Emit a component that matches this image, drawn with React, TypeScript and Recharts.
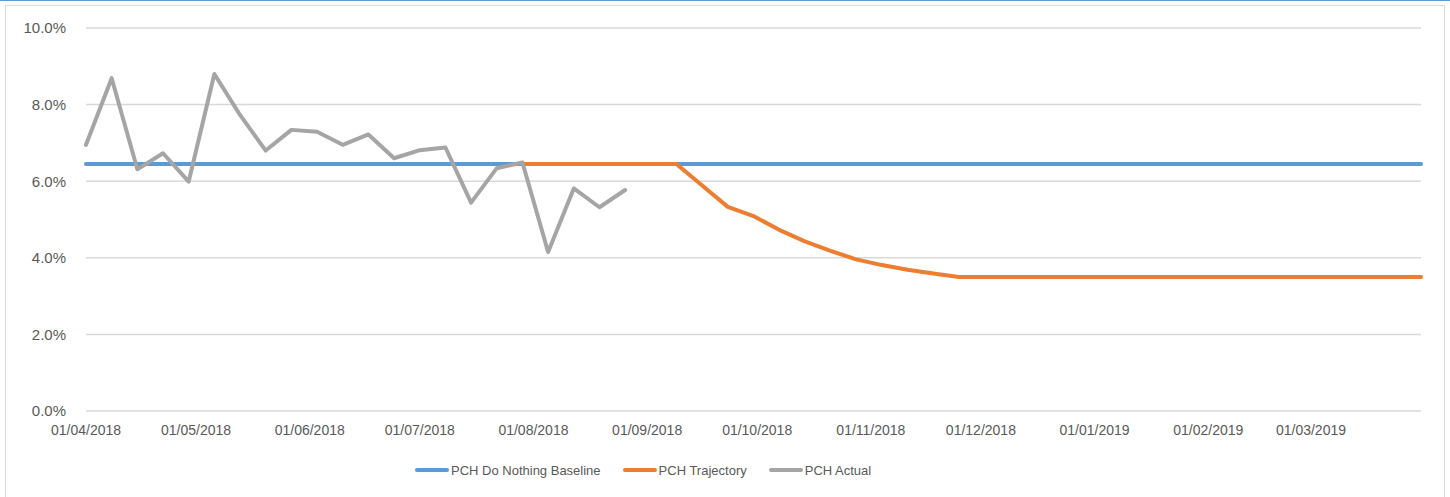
import React from "react";
import { LineChart, Line, XAxis, YAxis, CartesianGrid, Legend } from "recharts";

// weekly dates (dd/mm/yyyy)
const weeks = [
  "01/04/2018", "08/04/2018", "15/04/2018", "22/04/2018", "29/04/2018",
  "06/05/2018", "13/05/2018", "20/05/2018", "27/05/2018",
  "03/06/2018", "10/06/2018", "17/06/2018", "24/06/2018",
  "01/07/2018", "08/07/2018", "15/07/2018", "22/07/2018", "29/07/2018",
  "05/08/2018", "12/08/2018", "19/08/2018", "26/08/2018",
  "02/09/2018", "09/09/2018", "16/09/2018", "23/09/2018", "30/09/2018",
  "07/10/2018", "14/10/2018", "21/10/2018", "28/10/2018",
  "04/11/2018", "11/11/2018", "18/11/2018", "25/11/2018",
  "02/12/2018", "09/12/2018", "16/12/2018", "23/12/2018", "30/12/2018",
  "06/01/2019", "13/01/2019", "20/01/2019", "27/01/2019",
  "03/02/2019", "10/02/2019", "17/02/2019", "24/02/2019",
  "03/03/2019", "10/03/2019", "17/03/2019", "24/03/2019", "31/03/2019",
];

// PCH Do Nothing Baseline (%)
const baseline = [
  6.45, 6.45, 6.45, 6.45, 6.45, 6.45, 6.45, 6.45, 6.45, 6.45,
  6.45, 6.45, 6.45, 6.45, 6.45, 6.45, 6.45, 6.45, 6.45, 6.45,
  6.45, 6.45, 6.45, 6.45, 6.45, 6.45, 6.45, 6.45, 6.45, 6.45,
  6.45, 6.45, 6.45, 6.45, 6.45, 6.45, 6.45, 6.45, 6.45, 6.45,
  6.45, 6.45, 6.45, 6.45, 6.45, 6.45, 6.45, 6.45, 6.45, 6.45,
  6.45, 6.45, 6.45,
];

// PCH Trajectory (%)
const trajectory = [
  null, null, null, null, null, null, null, null, null, null,
  null, null, null, null, null, null, null, 6.45, 6.45, 6.45,
  6.45, 6.45, 6.45, 6.45, 5.89, 5.33, 5.09, 4.73, 4.43, 4.18,
  3.96, 3.81, 3.69, 3.59, 3.5, 3.5, 3.5, 3.5, 3.5, 3.5,
  3.5, 3.5, 3.5, 3.5, 3.5, 3.5, 3.5, 3.5, 3.5, 3.5,
  3.5, 3.5, 3.5,
];

// PCH Actual (%)
const actual = [
  6.95, 8.69, 6.31, 6.73, 5.99, 8.8, 7.73, 6.8, 7.34, 7.29,
  6.95, 7.22, 6.6, 6.81, 6.88, 5.44, 6.34, 6.49, 4.15, 5.81,
  5.32, 5.77,
];

const monthTicks = [
  "01/04/2018", "01/05/2018", "01/06/2018", "01/07/2018", "01/08/2018",
  "01/09/2018", "01/10/2018", "01/11/2018", "01/12/2018", "01/01/2019",
  "01/02/2019", "01/03/2019",
];

const yTicks = [0, 2, 4, 6, 8, 10];

const toTime = (s: string) => {
  const [d, m, y] = s.split("/").map(Number);
  return Date.UTC(y, m - 1, d);
};

const fmtDate = (t: number) => {
  const d = new Date(t);
  const dd = String(d.getUTCDate()).padStart(2, "0");
  const mm = String(d.getUTCMonth() + 1).padStart(2, "0");
  return `${dd}/${mm}/${d.getUTCFullYear()}`;
};

const data = weeks.map((w, i) => ({
  t: toTime(w),
  baseline: baseline[i],
  trajectory: trajectory[i] ?? null,
  actual: actual[i] ?? null,
}));

const FONT = "'Liberation Sans', Arial, sans-serif";
const TEXT = "#595959";

const series = [
  { key: "baseline", name: "PCH Do Nothing Baseline", color: "#5B9BD5" },
  { key: "trajectory", name: "PCH Trajectory", color: "#ED7D31" },
  { key: "actual", name: "PCH Actual", color: "#A5A5A5" },
];

const renderLegend = () => (
  <div
    style={{
      display: "flex",
      alignItems: "center",
      height: 20,
      paddingLeft: 415,
      fontFamily: FONT,
      fontSize: 13,
      color: TEXT,
    }}
  >
    {series.map((s) => (
      <div key={s.key} style={{ display: "flex", alignItems: "center", marginRight: 22 }}>
        <svg width={34} height={6} style={{ marginRight: 2 }}>
          <line x1={2} y1={3} x2={32} y2={3} stroke={s.color} strokeWidth={4} strokeLinecap="round" />
        </svg>
        <span>{s.name}</span>
      </div>
    ))}
  </div>
);

const App: React.FC = () => {
  return (
    <div style={{ position: "absolute", left: 0, top: 0, width: 1450, height: 497, background: "#fff" }}>
      <div style={{ position: "absolute", left: 0, top: 0, width: 1450, height: 1, background: "#5B9BD5" }} />
      <div
        style={{
          position: "absolute",
          left: 5,
          top: 5,
          width: 1438,
          height: 500,
          border: "1px solid #D9D9D9",
        }}
      />
      <div style={{ position: "absolute", left: 0, top: 0 }}>
        <LineChart width={1450} height={497} data={data} margin={{ top: 28, right: 29, left: 0, bottom: 36 }}>
          <CartesianGrid vertical={false} stroke="#D9D9D9" strokeWidth={1.5} />
          <XAxis
            dataKey="t"
            type="number"
            scale="time"
            domain={[toTime("01/04/2018"), toTime("31/03/2019")]}
            ticks={monthTicks.map(toTime)}
            tickFormatter={fmtDate}
            axisLine={false}
            tickLine={false}
            tickMargin={8}
            height={30}
            tick={{ fill: TEXT, fontSize: 14, fontFamily: FONT }}
            interval={0}
          />
          <YAxis
            domain={[0, 10]}
            ticks={yTicks}
            tickFormatter={(v: number) => `${v.toFixed(1)}%`}
            axisLine={false}
            tickLine={false}
            tickMargin={14}
            width={86}
            tick={{ fill: TEXT, fontSize: 15, fontFamily: FONT }}
          />
          <Legend verticalAlign="bottom" content={renderLegend} wrapperStyle={{ top: 460, left: 0, bottom: "auto", width: 1450 }} />
          {series.map((s) => (
            <Line
              key={s.key}
              type="linear"
              dataKey={s.key}
              name={s.name}
              stroke={s.color}
              strokeWidth={4}
              dot={false}
              activeDot={false}
              connectNulls={false}
              isAnimationActive={false}
              strokeLinejoin="round"
              strokeLinecap="round"
            />
          ))}
        </LineChart>
      </div>
    </div>
  );
};

export default App;
